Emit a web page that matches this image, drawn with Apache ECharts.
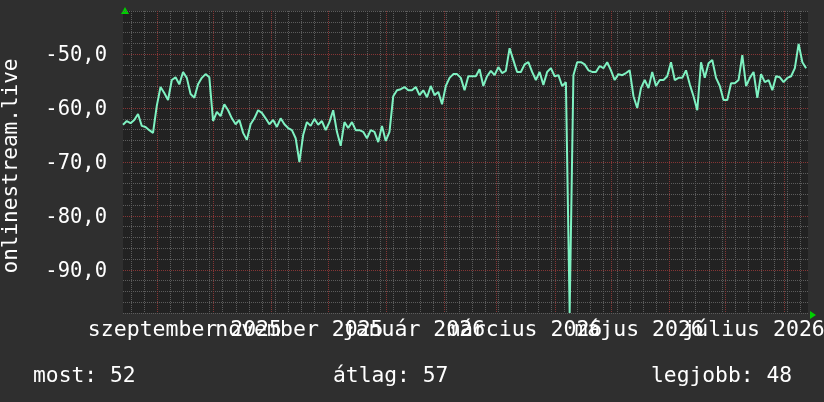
<!DOCTYPE html>
<html><head><meta charset="utf-8">
<script src="https://cdn.jsdelivr.net/npm/echarts@6/dist/echarts.min.js"></script>
<style>html,body{margin:0;padding:0;background:#2f2f2f;}#c{width:824px;height:402px;}</style>
</head><body><div id="c"></div>
<script>
// ---- data ----
const startDate = '2025-08-14';
const endDate = '2026-08-14';
const stepDays = 2;
const values = [
-63.1,-62.4,-62.8,-62.2,-61.1,-63.3,-63.5,-64.1,-64.6,-59.6,
-56.1,-57.2,-58.5,-54.8,-54.3,-55.6,-53.3,-54.4,-57.4,-58.1,
-55.6,-54.4,-53.7,-54.3,-62.4,-60.7,-61.5,-59.3,-60.4,-61.9,
-63.0,-62.2,-64.6,-65.9,-63.0,-61.9,-60.4,-60.9,-61.9,-63.0,
-62.2,-63.5,-61.9,-63.0,-63.7,-64.1,-65.6,-70.0,-65.0,-62.6,
-63.3,-62.0,-63.1,-62.4,-64.1,-62.6,-60.4,-64.4,-67.0,-62.6,
-63.7,-62.6,-64.1,-64.1,-64.4,-65.6,-64.1,-64.4,-66.3,-63.3,
-66.1,-64.4,-57.8,-56.7,-56.5,-56.1,-56.7,-56.7,-56.1,-57.6,
-56.7,-58.0,-55.9,-57.6,-57.0,-59.3,-55.9,-54.4,-53.7,-53.7,
-54.4,-56.7,-54.1,-54.1,-54.1,-52.8,-55.9,-54.1,-53.1,-53.9,
-52.4,-53.5,-53.1,-48.9,-51.1,-53.3,-53.3,-51.9,-51.5,-53.3,
-54.8,-53.3,-55.7,-53.3,-52.6,-54.1,-53.9,-55.9,-55.2,-98.0,
-53.9,-51.5,-51.5,-51.9,-53.0,-53.3,-53.3,-52.2,-52.6,-51.5,
-53.0,-54.8,-53.7,-53.9,-53.5,-53.0,-57.8,-60.0,-56.3,-54.8,
-56.3,-53.3,-55.9,-54.8,-54.8,-54.1,-51.5,-54.8,-54.4,-54.4,
-53.0,-55.6,-57.8,-60.4,-51.5,-54.4,-51.7,-51.1,-54.4,-55.9,
-58.5,-58.5,-55.4,-55.4,-54.8,-50.2,-55.9,-54.4,-53.3,-58.1,
-53.7,-55.2,-54.8,-56.7,-54.1,-54.3,-55.2,-54.4,-54.1,-52.6,
-48.1,-51.5,-52.6
];
const monthStarts = ['2025-09-01','2025-10-01','2025-11-01','2025-12-01','2026-01-01','2026-02-01',
  '2026-03-01','2026-04-01','2026-05-01','2026-06-01','2026-07-01','2026-08-01'];
const firstMonday = '2025-08-18';
const xLabelDates = ['2025-09-16','2025-11-16','2026-01-16','2026-03-16','2026-05-16','2026-07-16'];
const xLabelTexts = ['szeptember 2025','november 2025','január 2026','március 2026','május 2026','július 2026'];
const yTicks = [-90,-80,-70,-60,-50];
const yMin = -98, yMax = -42, yMinorStep = 2;
const yName = 'onlinestream.live';
const legendLabels = ['most:','átlag:','legjobb:'];
const legendValues = [52, 57, 48];

// ---- build ----
const DAY = 86400000;
const t0 = Date.parse(startDate), t1 = Date.parse(endDate);
const seriesData = values.map((v, i) => [t0 + i * stepDays * DAY, v]);
const vLines = [];
for (let t = Date.parse(firstMonday); t < t1; t += 7 * DAY) vLines.push([t, 0]);
monthStarts.forEach(d => vLines.push([Date.parse(d), 1]));
const xLabelData = xLabelDates.map((d, i) => [Date.parse(d), i]);
const yLabelData = yTicks.map(v => [t0, v]);

const FONT = 'DejaVu Sans Mono';
const GREY = '#5c5c5c', RED = '#863535';
const hColors = [];
for (let v = yMin; v < yMin + 10; v += yMinorStep) hColors.push(((v % 10) + 10) % 10 === 0 ? RED : GREY);

const chart = echarts.init(document.getElementById('c'), null, {renderer: 'canvas'});
chart.setOption({
  backgroundColor: '#2f2f2f',
  animation: false,
  grid: {left: 123, top: 11, width: 685, height: 302, show: true,
    backgroundColor: '#222222', borderWidth: 0},
  xAxis: {
    type: 'value', min: t0, max: t1,
    axisLine: {show: false}, axisTick: {show: false}, splitLine: {show: false},
    axisLabel: {show: false}
  },
  yAxis: {
    type: 'value', min: yMin, max: yMax, interval: yMinorStep,
    axisLine: {show: false}, axisTick: {show: false},
    splitLine: {show: true, lineStyle: {color: hColors, width: 1, type: [1, 1]}},
    axisLabel: {show: false}
  },
  series: [
    {type: 'custom', data: vLines, z: 1, silent: true,
      renderItem: (params, api) => {
        const t = api.value(0), kind = api.value(1);
        const top = api.coord([t, yMax]), bot = api.coord([t, yMin]);
        const x = Math.round(top[0]) + 0.5;
        return {type: 'line', shape: {x1: x, y1: top[1], x2: x, y2: bot[1]},
          style: {stroke: kind ? RED : GREY, lineWidth: 1, lineDash: [1, 1]}, z2: kind ? 2 : 1};
      }},
    {type: 'custom', data: xLabelData, z: 6, silent: true, clip: false,
      renderItem: (params, api) => {
        const p = api.coord([api.value(0), yMin]);
        return {type: 'text', x: p[0], y: p[1] + 17,
          style: {text: xLabelTexts[api.value(1)], fill: '#ffffff', font: '21.5px "DejaVu Sans Mono"',
            align: 'center', verticalAlign: 'middle'}};
      }},
    {type: 'custom', data: yLabelData, z: 6, silent: true, clip: false,
      renderItem: (params, api) => {
        const v = api.value(1);
        const p = api.coord([api.value(0), v]);
        return {type: 'text', x: p[0] - 16, y: p[1] + 2,
          style: {text: v.toFixed(1).replace('.', ','), fill: '#ffffff', font: '20.5px "DejaVu Sans Mono"',
            align: 'right', verticalAlign: 'middle'}};
      }},
    {type: 'line', data: seriesData, z: 5, symbol: 'none', showSymbol: false,
      lineStyle: {color: '#7ff2c2', width: 2}, clip: true}
  ],
  graphic: [
    {type: 'text', x: 12, y: 166, rotation: Math.PI / 2,
      style: {text: yName, fill: '#ffffff', font: '21px "DejaVu Sans Mono"', align: 'center', verticalAlign: 'middle'}},
    {type: 'polygon', shape: {points: [[125, 7], [121, 14], [129, 14]]}, style: {fill: '#00d000'}},
    {type: 'polygon', shape: {points: [[816, 315], [810, 311], [810, 319]]}, style: {fill: '#00d000'}},
    {type: 'text', x: 33, y: 376, style: {text: legendLabels[0] + ' ' + legendValues[0], fill: '#ffffff', font: '21.3px "DejaVu Sans Mono"', verticalAlign: 'middle'}},
    {type: 'text', x: 333, y: 376, style: {text: legendLabels[1] + ' ' + legendValues[1], fill: '#ffffff', font: '21.3px "DejaVu Sans Mono"', verticalAlign: 'middle'}},
    {type: 'text', x: 651, y: 376, style: {text: legendLabels[2] + ' ' + legendValues[2], fill: '#ffffff', font: '21.3px "DejaVu Sans Mono"', verticalAlign: 'middle'}}
  ]
});
</script></body></html>
